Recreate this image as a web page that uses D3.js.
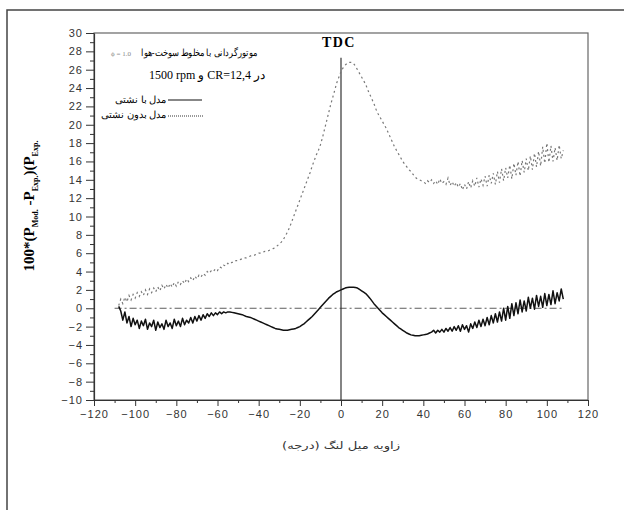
<!DOCTYPE html>
<html>
<head>
<meta charset="utf-8">
<script src="https://cdn.jsdelivr.net/npm/d3@7"></script>
<style>
body { margin: 0; background: #fff; }
svg { display: block; }
.tick text { font-family: "Liberation Sans", Arial, sans-serif; font-size: 11px; letter-spacing: 1px; fill: #333; }
.domain, .tick line { stroke: #333; }
</style>
</head>
<body>
<svg id="chart" width="624" height="510"></svg>
<script>
// crank angle, deg (1 deg step)
var angles = d3.range(-108, 109, 1);

// model without leakage (grey dotted)
var noLeak = [
  0.3, 1.0, 0.5, 1.2, 0.7, 1.4, 0.9, 1.5, 1.1, 1.7,
  1.3, 1.8, 1.4, 2.0, 1.5, 2.1, 1.7, 2.2, 1.8, 2.3,
  1.9, 2.5, 2.1, 2.6, 2.2, 2.7, 2.3, 2.8, 2.4, 2.9,
  2.6, 3.0, 2.7, 3.2, 2.9, 3.3, 3.0, 3.5, 3.2, 3.6,
  3.4, 3.8, 3.6, 4.0, 3.8, 4.1, 4.0, 4.3, 4.1, 4.5,
  4.4, 4.7, 4.6, 4.9, 4.8, 5.0, 5.0, 5.2, 5.2, 5.3,
  5.4, 5.5, 5.5, 5.6, 5.7, 5.8, 5.8, 5.9, 6.0, 6.0,
  6.1, 6.2, 6.2, 6.3, 6.4, 6.5, 6.6, 6.8, 7.0, 7.2,
  7.5, 7.9, 8.3, 8.8, 9.4, 10.0, 10.6, 11.2, 11.8, 12.4,
  13.0, 13.6, 14.2, 14.8, 15.5, 16.1, 16.7, 17.2, 17.8, 18.6,
  19.5, 20.4, 21.3, 22.2, 23.0, 23.8, 24.6, 25.2, 25.8, 26.2,
  26.5, 26.7, 26.8, 26.8, 26.7, 26.4, 26.0, 25.6, 25.2, 24.8,
  24.4, 23.8, 23.3, 22.8, 22.3, 21.7, 21.2, 20.8, 20.4, 20.0,
  19.6, 19.1, 18.6, 18.1, 17.6, 17.2, 16.8, 16.4, 16.0, 15.7,
  15.4, 15.1, 14.9, 14.6, 14.3, 14.1, 14.0, 13.9, 13.8, 13.6,
  13.9, 13.7, 14.0, 13.6, 13.9, 13.5, 14.1, 13.6, 13.8, 13.5,
  14.2, 13.4, 13.8, 13.3, 13.7, 13.2, 13.6, 12.9, 13.5, 13.0,
  13.8, 13.1, 13.9, 13.3, 14.2, 13.2, 14.1, 13.4, 14.4, 13.3,
  14.5, 13.6, 14.7, 13.5, 14.9, 13.7, 15.2, 13.9, 15.3, 14.2,
  15.6, 14.1, 15.8, 14.5, 16.0, 14.4, 16.1, 14.8, 16.3, 15.0,
  16.6, 15.1, 16.9, 15.4, 17.1, 15.5, 17.6, 15.8, 18.0, 15.9,
  17.7, 16.0, 17.5, 16.1, 17.8, 16.3, 17.2];

// model with leakage (black solid)
var withLeak = [
  0.2, -0.3, -1.3, -0.4, -1.6, -0.9, -2.0, -1.1, -1.8, -1.3,
  -2.2, -1.4, -1.9, -1.2, -2.3, -1.6, -2.0, -1.3, -2.4, -1.5,
  -2.1, -1.7, -2.3, -1.3, -2.0, -1.6, -2.2, -1.2, -1.9, -1.4,
  -2.0, -1.1, -1.8, -1.3, -1.6, -1.0, -1.6, -0.9, -1.4, -0.8,
  -1.3, -0.7, -1.1, -0.6, -0.9, -0.5, -0.8, -0.5, -0.7, -0.4,
  -0.6, -0.4, -0.5, -0.4, -0.4, -0.45, -0.5, -0.55, -0.6, -0.65,
  -0.7, -0.8, -0.9, -0.95, -1.0, -1.1, -1.2, -1.3, -1.4, -1.5,
  -1.6, -1.7, -1.8, -1.9, -2.0, -2.1, -2.2, -2.25, -2.3, -2.35,
  -2.4, -2.4, -2.4, -2.35, -2.3, -2.25, -2.2, -2.1, -2.0, -1.85,
  -1.7, -1.5, -1.3, -1.1, -0.9, -0.65, -0.4, -0.15, 0.1, 0.35,
  0.6, 0.85, 1.1, 1.3, 1.5, 1.65, 1.8, 1.9, 2.0, 2.1,
  2.2, 2.25, 2.3, 2.3, 2.3, 2.25, 2.2, 2.05, 1.9, 1.75,
  1.6, 1.35, 1.1, 0.8, 0.5, 0.25, 0.0, -0.25, -0.5, -0.7,
  -0.9, -1.1, -1.3, -1.5, -1.7, -1.9, -2.1, -2.25, -2.4, -2.55,
  -2.7, -2.8, -2.9, -2.95, -3.0, -3.0, -3.0, -2.95, -2.9, -2.85,
  -2.8, -2.7, -2.6, -2.4, -2.7, -2.4, -2.6, -2.3, -2.6, -2.2,
  -2.5, -2.1, -2.5, -2.0, -2.4, -1.9, -2.5, -1.8, -2.3, -1.9,
  -2.6, -1.7, -2.2, -1.5, -2.1, -1.3, -2.0, -1.2, -1.9, -1.0,
  -1.8, -0.8, -1.6, -0.6, -1.5, -0.4, -1.4, 0.0, -1.3, 0.2,
  -1.1, 0.5, -0.8, 0.6, -0.6, 0.9, -0.4, 0.8, -0.3, 1.2,
  0.0, 1.1, -0.1, 1.4, 0.2, 1.3, 0.1, 1.6, 0.3, 1.5,
  0.4, 1.9, 0.5, 1.7, 0.8, 2.1, 1.0];

var xTicks = d3.range(-120, 121, 20);
var yTicks = d3.range(-10, 31, 2);

var svg = d3.select("#chart");

// outer frame
svg.append("rect")
    .attr("x", 7).attr("y", 10)
    .attr("width", 640).attr("height", 520)
    .attr("fill", "none").attr("stroke", "#444").attr("stroke-width", 1.5);

var x = d3.scaleLinear().domain([-120, 120]).range([94, 588]);
var y = d3.scaleLinear().domain([-10, 30]).range([400, 33]);

// plot box
svg.append("rect")
    .attr("x", x(-120)).attr("y", y(30))
    .attr("width", x(120) - x(-120)).attr("height", y(-10) - y(30))
    .attr("fill", "none").attr("stroke", "#666").attr("stroke-width", 1.2);

// minor ticks first, then the labelled axes
svg.append("g")
    .attr("transform", "translate(0," + y(-10) + ")")
    .call(d3.axisBottom(x).tickValues(d3.range(-110, 120, 20)).tickSize(3).tickFormat(""))
    .call(g => g.select(".domain").remove());
svg.append("g")
    .attr("transform", "translate(" + x(-120) + ",0)")
    .call(d3.axisLeft(y).tickValues(d3.range(-9, 30, 2)).tickSize(4).tickFormat(""))
    .call(g => g.select(".domain").remove());

svg.append("g")
    .attr("transform", "translate(0," + y(-10) + ")")
    .call(d3.axisBottom(x).tickValues(xTicks).tickSize(6).tickSizeOuter(0).tickPadding(4))
    .select(".domain").attr("stroke-width", 1.2);

svg.append("g")
    .attr("transform", "translate(" + x(-120) + ",0)")
    .call(d3.axisLeft(y).tickValues(yTicks).tickSize(8).tickSizeOuter(0).tickPadding(3))
    .select(".domain").attr("stroke-width", 1.2);

// TDC line
svg.append("line")
    .attr("x1", x(0)).attr("x2", x(0))
    .attr("y1", y(27.3)).attr("y2", y(-10))
    .attr("stroke", "#333").attr("stroke-width", 1.2);
svg.append("text")
    .attr("x", x(-1)).attr("y", 47)
    .attr("text-anchor", "middle")
    .attr("font-family", "'Liberation Serif', serif")
    .attr("font-weight", "bold").attr("font-size", 14)
    .attr("letter-spacing", 1.5)
    .text("TDC");

// zero reference, dash-dot
svg.append("line")
    .attr("x1", x(-110)).attr("x2", x(108.5))
    .attr("y1", y(0)).attr("y2", y(0))
    .attr("stroke", "#333").attr("stroke-width", 0.8)
    .attr("stroke-dasharray", "7,3,2,3");

var line = d3.line()
    .x((d, i) => x(angles[i]))
    .y(d => y(d));

svg.append("path")
    .datum(noLeak)
    .attr("d", line)
    .attr("fill", "none")
    .attr("stroke", "#777")
    .attr("stroke-width", 1.2)
    .attr("stroke-dasharray", "2,3");

svg.append("path")
    .datum(withLeak)
    .attr("d", line)
    .attr("fill", "none")
    .attr("stroke", "#111")
    .attr("stroke-width", 1.5)
    .attr("stroke-linejoin", "round");

// legend / notes
var serif = "'Liberation Serif', 'DejaVu Serif', serif";
svg.append("text")
    .attr("x", 257).attr("y", 56)
    .attr("text-anchor", "end")
    .attr("font-family", serif).attr("font-size", 10)
    .attr("textLength", 116).attr("lengthAdjust", "spacingAndGlyphs")
    .text("موتورگردانی با مخلوط سوخت-هوا");
svg.append("text")
    .attr("x", 111).attr("y", 56)
    .attr("font-family", serif).attr("font-size", 7).attr("fill", "#888")
    .text("ϕ = 1.0");
svg.append("text")
    .attr("x", 149).attr("y", 79)
    .attr("font-family", serif).attr("font-size", 12)
    .attr("direction", "ltr")
    .text("1500 rpm و CR=12,4 در");

svg.append("line")
    .attr("x1", 168).attr("x2", 202).attr("y1", 100).attr("y2", 100)
    .attr("stroke", "#111").attr("stroke-width", 1.2);
svg.append("text")
    .attr("x", 166).attr("y", 103)
    .attr("text-anchor", "end")
    .attr("font-family", serif).attr("font-size", 10)
    .text("مدل با نشتی");
svg.append("line")
    .attr("x1", 168).attr("x2", 204).attr("y1", 116).attr("y2", 116)
    .attr("stroke", "#333").attr("stroke-width", 1)
    .attr("stroke-dasharray", "1,1");
svg.append("text")
    .attr("x", 166).attr("y", 118)
    .attr("text-anchor", "end")
    .attr("font-family", serif).attr("font-size", 10)
    .text("مدل بدون نشتی");

// axis titles
var yl = svg.append("text")
    .attr("transform", "translate(34,206) rotate(-90)")
    .attr("text-anchor", "middle")
    .attr("font-family", serif).attr("font-weight", "bold").attr("font-size", 15);
yl.append("tspan").text("100*(P");
yl.append("tspan").attr("dy", 4).attr("font-size", 8).text("Mod.");
yl.append("tspan").attr("dy", -4).text(" -P");
yl.append("tspan").attr("dy", 4).attr("font-size", 8).text("Exp.");
yl.append("tspan").attr("dy", -4).text(")(P");
yl.append("tspan").attr("dy", 4).attr("font-size", 8).text("Exp.");

svg.append("text")
    .attr("x", x(0)).attr("y", 449)
    .attr("text-anchor", "middle")
    .attr("font-family", "'DejaVu Sans', sans-serif").attr("font-size", 10)
    .attr("textLength", 118).attr("lengthAdjust", "spacingAndGlyphs")
    .attr("fill", "#333")
    .text("زاویه میل لنگ (درجه)");
</script>
</body>
</html>
